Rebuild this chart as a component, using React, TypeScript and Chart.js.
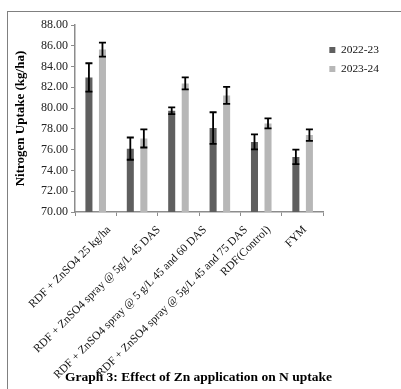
import React, { useEffect, useRef } from "react";
import { Chart, registerables } from "chart.js";

Chart.register(...registerables);

const categories = [
  "RDF + ZnSO4 25 kg/ha",
  "RDF + ZnSO4 spray @ 5g/L 45 DAS",
  "RDF + ZnSO4 spray @ 5 g/L 45 and 60 DAS",
  "RDF + ZnSO4 spray @ 5g/L 45 and 75 DAS",
  "RDF(Control)",
  "FYM",
];
const seriesNames = ["2022-23", "2023-24"];
const values2022 = [82.95, 76.1, 79.75, 78.08, 76.75, 75.3];
const errors2022 = [1.37, 1.07, 0.33, 1.52, 0.72, 0.7];
const values2023 = [85.63, 77.08, 82.38, 81.22, 78.53, 77.4];
const errors2023 = [0.67, 0.87, 0.58, 0.82, 0.48, 0.55];
const yTicks = [70, 72, 74, 76, 78, 80, 82, 84, 86, 88];

const SERIF = "'Liberation Serif', 'Times New Roman', serif";
const errorSets = [errors2022, errors2023];

const errorBarPlugin = {
  id: "errorBars",
  afterDatasetsDraw(chart: any) {
    const ctx = chart.ctx;
    const y = chart.scales.y;
    ctx.save();
    ctx.strokeStyle = "#000";
    ctx.lineWidth = 1.8;
    chart.data.datasets.forEach((ds: any, di: number) => {
      const meta = chart.getDatasetMeta(di);
      meta.data.forEach((bar: any, j: number) => {
        const v = ds.data[j];
        const e = errorSets[di][j];
        const yt = y.getPixelForValue(v + e);
        const yb = y.getPixelForValue(v - e);
        const hw = bar.width / 2;
        ctx.beginPath();
        ctx.moveTo(bar.x, yt);
        ctx.lineTo(bar.x, yb);
        ctx.moveTo(bar.x - hw, yt);
        ctx.lineTo(bar.x + hw, yt);
        ctx.moveTo(bar.x - hw, yb);
        ctx.lineTo(bar.x + hw, yb);
        ctx.stroke();
      });
    });
    ctx.restore();
  },
};

const xLabelPlugin = {
  id: "xLabels",
  afterDraw(chart: any) {
    const ctx = chart.ctx;
    const sc = chart.scales.x;
    ctx.save();
    ctx.font = "11.5px " + SERIF;
    ctx.fillStyle = "#111";
    ctx.textAlign = "right";
    ctx.textBaseline = "middle";
    (chart.data.labels as string[]).forEach((lab, i) => {
      const w = ctx.measureText(lab).width;
      const x = sc.getPixelForTick(i) - 1 + 0.13 * w;
      const yy = sc.top + 16;
      ctx.save();
      ctx.translate(x, yy);
      ctx.rotate(-Math.PI / 4);
      ctx.fillText(lab, 0, 0);
      ctx.restore();
    });
    ctx.restore();
  },
};

export default function App() {
  const ref = useRef<HTMLCanvasElement | null>(null);

  useEffect(() => {
    if (!ref.current) return;
    Chart.defaults.font.family = SERIF;
    const chart = new Chart(ref.current, {
      type: "bar",
      data: {
        labels: categories,
        datasets: [
          {
            label: seriesNames[0],
            data: values2022,
            backgroundColor: "#5f5f5f",
            categoryPercentage: 0.654,
            barPercentage: 0.52,
          },
          {
            label: seriesNames[1],
            data: values2023,
            backgroundColor: "#b7b7b7",
            categoryPercentage: 0.654,
            barPercentage: 0.52,
          },
        ],
      },
      options: {
        responsive: false,
        animation: false,
        layout: { padding: { left: 8, top: 25, right: 12, bottom: 0 } },
        plugins: {
          tooltip: { enabled: false },
          legend: {
            position: "right",
            align: "start",
            title: { display: true, text: "", font: { size: 1 }, padding: { top: 12.1, bottom: 0 } },
            labels: {
              boxWidth: 6,
              boxHeight: 6,
              padding: 6,
              color: "#111",
              font: { size: 11.4, family: SERIF, lineHeight: 13 / 11.4 },
              generateLabels: (ch: any) =>
                Chart.defaults.plugins.legend.labels
                  .generateLabels(ch)
                  .map((l: any) => ({ ...l, text: [l.text], lineWidth: 0 })),
            },
          },
          title: {
            display: true,
            position: "bottom",
            text: "Graph 3: Effect of Zn application on N uptake",
            color: "#000",
            font: { size: 13.5, weight: "bold", family: SERIF, lineHeight: 1.2 },
            padding: { top: 0, bottom: 3 },
          },
        },
        scales: {
          x: {
            grid: {
              display: true,
              drawOnChartArea: false,
              drawTicks: true,
              tickLength: 4,
              color: "#8c8c8c",
              offset: true,
            },
            border: { display: true, color: "#8c8c8c", width: 1.5 },
            ticks: { display: false },
            afterFit: (scale: any) => {
              scale.height = 157.8;
            },
          },
          y: {
            min: 70,
            max: 88,
            afterBuildTicks: (scale: any) => {
              scale.ticks = yTicks.map((v) => ({ value: v }));
            },
            grid: {
              display: true,
              drawOnChartArea: false,
              drawTicks: true,
              tickLength: 4,
              color: "#8c8c8c",
            },
            border: { display: true, color: "#8c8c8c", width: 1.5 },
            ticks: {
              padding: 3,
              color: "#222",
              font: { size: 12, family: SERIF },
              callback: (v: any) => Number(v).toFixed(2),
            },
            title: {
              display: true,
              text: "Nitrogen Uptake (kg/ha)",
              color: "#000",
              font: { size: 13, weight: "bold", family: SERIF, lineHeight: 1.2 },
              padding: { top: 5, bottom: 0 },
            },
            afterFit: (scale: any) => {
              scale.width = 67;
            },
          },
        },
      },
      plugins: [errorBarPlugin, xLabelPlugin],
    } as any);
    return () => chart.destroy();
  }, []);

  return (
    <div style={{ position: "absolute", left: 0, top: 0, width: 401, height: 389, background: "#fff", overflow: "hidden" }}>
      <div
        style={{
          position: "absolute",
          left: 7,
          top: 11,
          width: 420,
          height: 420,
          borderLeft: "1px solid #808080",
          borderTop: "1px solid #808080",
        }}
      />
      <canvas ref={ref} width={401} height={389} style={{ position: "absolute", left: 0, top: 0, display: "block" }} />
    </div>
  );
}
